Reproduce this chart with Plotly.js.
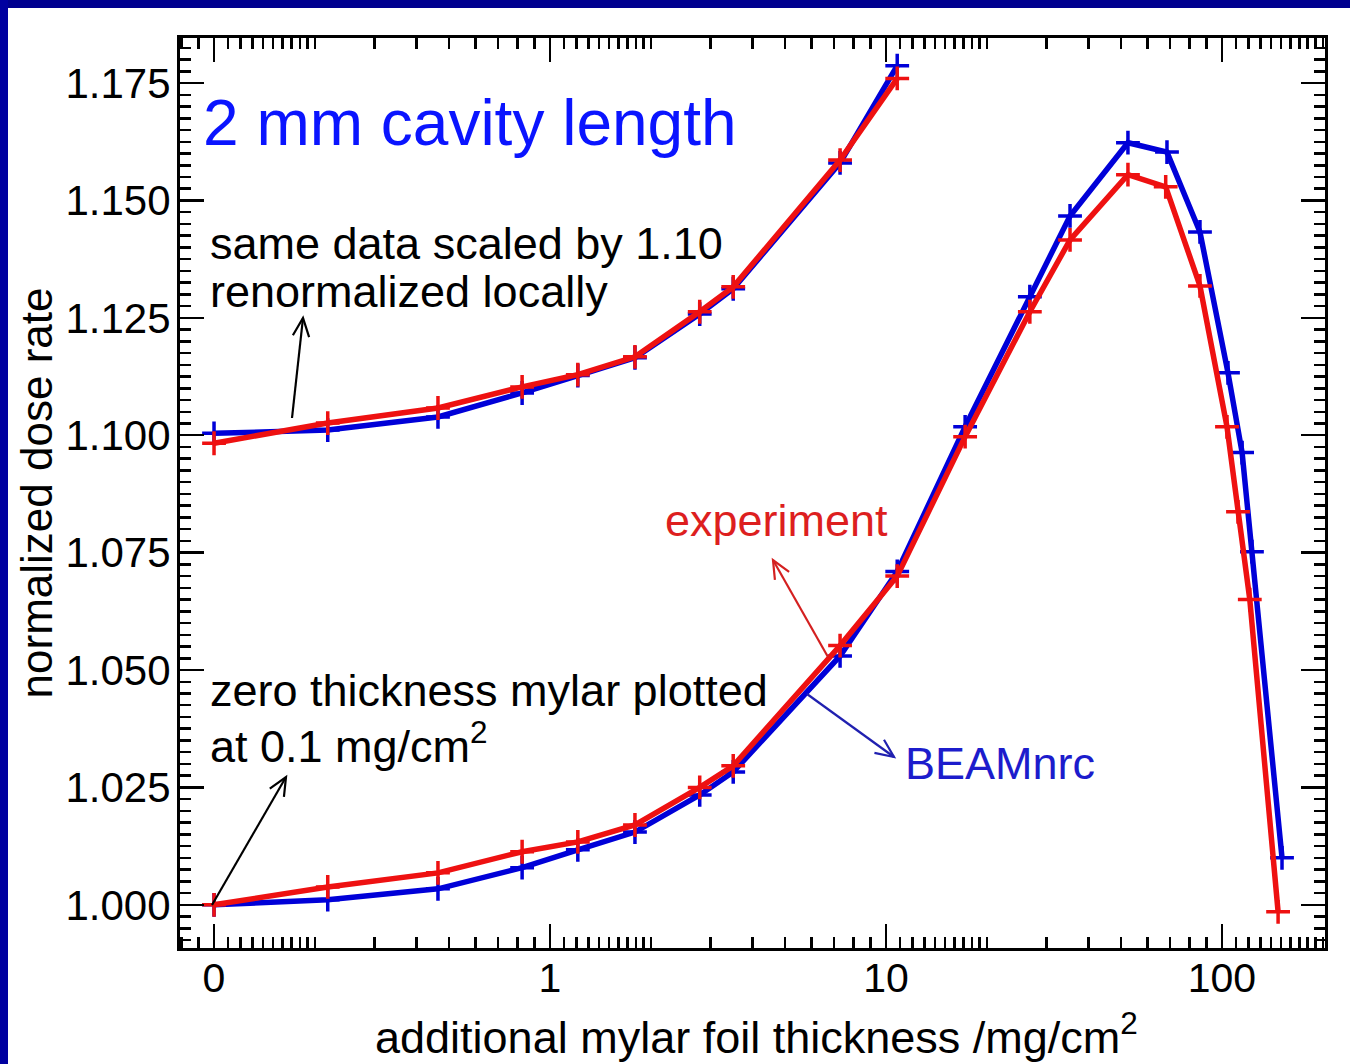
<!DOCTYPE html>
<html>
<head>
<meta charset="utf-8">
<script src="https://cdn.plot.ly/plotly-3.0.1.min.js"></script>
<style>html,body{margin:0;padding:0;background:#fff;}</style>
</head>
<body>
<div id="chart" style="width:1350px;height:1064px;"></div>
<script>
// ---- data ----
const thicknessBeam = [0.1, 0.218, 0.464, 0.826, 1.21, 1.79, 2.79, 3.51, 7.3, 10.8, 17.2, 26.8, 35.3, 52.5, 68.6, 86.0, 104.2, 114.8, 122.8, 150.9];
const beamnrc      = [1.0000, 1.0011, 1.0034, 1.0079, 1.0117, 1.0155, 1.0234, 1.0283, 1.0530, 1.0710, 1.1018, 1.1295, 1.1467, 1.1623, 1.1603, 1.1433, 1.1133, 1.0963, 1.0752, 1.0100];
const thicknessExp = [0.1, 0.218, 0.464, 0.826, 1.21, 1.79, 2.79, 3.51, 7.3, 10.8, 17.2, 26.8, 35.3, 52.5, 68.0, 86.0, 103.5, 111.6, 121.0, 146.9];
const experiment   = [1.0000, 1.0038, 1.0068, 1.0113, 1.0134, 1.0170, 1.0250, 1.0296, 1.0552, 1.0700, 1.0997, 1.1263, 1.1416, 1.1555, 1.1529, 1.1318, 1.1018, 1.0837, 1.0650, 0.9985];
const thicknessUp  = [0.1, 0.218, 0.464, 0.826, 1.21, 1.79, 2.79, 3.51, 7.3, 10.8];
const beamnrcUp    = [1.1004, 1.1011, 1.1039, 1.1090, 1.1127, 1.1165, 1.1258, 1.1312, 1.1580, 1.1787];
const experimentUp = [1.0983, 1.1026, 1.1058, 1.1103, 1.1129, 1.1167, 1.1263, 1.1316, 1.1586, 1.1760];
const xTickVals = [0.1, 1, 10, 100];
const xTickText = ['0', '1', '10', '100'];
const yTickVals = [1.000, 1.025, 1.050, 1.075, 1.100, 1.125, 1.150, 1.175];
const yTickText = ['1.000', '1.025', '1.050', '1.075', '1.100', '1.125', '1.150', '1.175'];

// minor ticks in the IDL style of the original: 1.1..1.9 and 2..9 per decade
const xMinor = [0.08, 0.09];
[0.1, 1, 10, 100].forEach(d => {
  for (let k = 11; k <= 19; k++) xMinor.push(d * k / 10);
  for (let k = 2; k <= 9; k++) xMinor.push(d * k);
});

const BLUE = '#0000d8';
const RED = '#ee1111';
const FONT = 'Liberation Sans, Arial, Helvetica, sans-serif';

function series(x, y, color) {
  return {
    type: 'scatter', mode: 'lines+markers', x: x, y: y,
    line: {color: color, width: 5.5},
    marker: {symbol: 'cross-thin-open', size: 17, color: color, line: {color: color, width: 3.5}},
    showlegend: false, hoverinfo: 'x+y'
  };
}

const data = [
  series(thicknessBeam, beamnrc, BLUE),
  series(thicknessExp, experiment, RED),
  series(thicknessUp, beamnrcUp, BLUE),
  series(thicknessUp, experimentUp, RED)
];

const L = 180, R = 25, T = 38, B = 116, W = 1350, H = 1064;
const pw = W - L - R, ph = H - T - B;
const px = p => (p - L) / pw;
const py = p => (H - B - p) / ph;

function txt(text, x, y, color, size, anchor) {
  return {xref: 'paper', yref: 'paper', x: px(x), y: py(y), xanchor: anchor || 'left', yanchor: 'middle',
          text: text, showarrow: false, font: {family: FONT, size: size, color: color}};
}
// arrow drawn as shaft + open V head (pixel geometry converted to paper units)
function arrowShapes(hx, hy, tx, ty, color) {
  const ang = Math.atan2(ty - hy, tx - hx);
  const len = 20, spread = 0.42;
  const a1x = hx + len * Math.cos(ang + spread), a1y = hy + len * Math.sin(ang + spread);
  const a2x = hx + len * Math.cos(ang - spread), a2y = hy + len * Math.sin(ang - spread);
  const ln = {color: color, width: 2.2};
  return [
    {type: 'line', xref: 'paper', yref: 'paper', x0: px(tx), y0: py(ty), x1: px(hx), y1: py(hy), line: ln},
    {type: 'path', xref: 'paper', yref: 'paper',
     path: `M${px(a1x)},${py(a1y)} L${px(hx)},${py(hy)} L${px(a2x)},${py(a2y)}`, line: ln}
  ];
}

const layout = {
  width: W, height: H,
  margin: {l: L, r: R, t: T, b: B, pad: 0},
  paper_bgcolor: '#ffffff', plot_bgcolor: '#ffffff',
  font: {family: FONT, color: '#000'},
  xaxis: {
    type: 'log', range: [Math.log10(0.0792), Math.log10(202.6)],
    showline: true, linecolor: '#000', linewidth: 3, mirror: 'ticks',
    ticks: 'inside', ticklen: 24, tickwidth: 2.5, tickcolor: '#000',
    tickmode: 'array', tickvals: xTickVals, ticktext: xTickText,
    tickfont: {size: 41, family: FONT}, ticklabelstandoff: -8,
    minor: {tickmode: 'array', tickvals: xMinor, ticks: 'inside', ticklen: 11, tickwidth: 2.5, tickcolor: '#000', showgrid: false},
    showgrid: false, zeroline: false
  },
  yaxis: {
    range: [0.9908, 1.1846],
    showline: true, linecolor: '#000', linewidth: 3, mirror: 'ticks',
    ticks: 'inside', ticklen: 24, tickwidth: 2.5, tickcolor: '#000',
    tickmode: 'array', tickvals: yTickVals, ticktext: yTickText,
    tickfont: {size: 42, family: FONT}, ticklabelstandoff: -2,
    minor: {dtick: 0.0025, tick0: 1, ticks: 'inside', ticklen: 11, tickwidth: 2.5, tickcolor: '#000', showgrid: false},
    showgrid: false, zeroline: false,
    title: {text: 'normalized dose rate', font: {size: 44, family: FONT}, standoff: 0}
  },
  shapes: [
    {type: 'rect', xref: 'paper', yref: 'paper', x0: px(0), x1: px(W), y0: py(0), y1: py(8), fillcolor: '#00008f', line: {width: 0}, layer: 'above'},
    {type: 'rect', xref: 'paper', yref: 'paper', x0: px(0), x1: px(8), y0: py(H), y1: py(0), fillcolor: '#0000a0', line: {width: 0}, layer: 'above'},
    ...arrowShapes(303, 318, 292, 418, '#000'),
    ...arrowShapes(286, 777, 212, 905, '#000'),
    ...arrowShapes(773, 560, 828, 657, '#d42020'),
    ...arrowShapes(894, 757, 807, 694, '#2020b0')
  ],
  annotations: [
    txt('additional mylar foil thickness /mg/cm<sup>2</sup>', 756, 1034, '#000', 45, 'center'),
    txt('2 mm cavity length', 201, 123, '#0a14ff', 64),
    txt('same data scaled by 1.10', 208, 244, '#000', 45),
    txt('renormalized locally', 208, 291, '#000', 45),
    txt('zero thickness mylar plotted', 208, 690, '#000', 45),
    txt('at 0.1 mg/cm<sup>2</sup>', 208, 743, '#000', 45),
    txt('experiment', 663, 520, '#dd1f1f', 45),
    txt('BEAMnrc', 903, 763, '#1c1ccc', 45)
  ]
};

Plotly.newPlot('chart', data, layout, {staticPlot: true, displayModeBar: false});
</script>
</body>
</html>
